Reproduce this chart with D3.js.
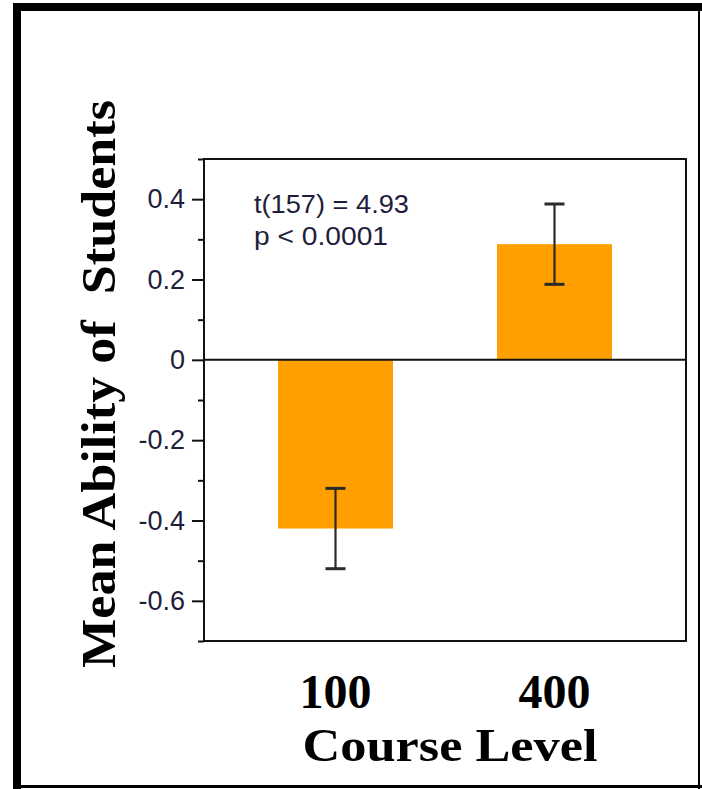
<!DOCTYPE html>
<html>
<head>
<meta charset="utf-8">
<script src="https://cdn.jsdelivr.net/npm/d3@7"></script>
<style>
  html, body { margin: 0; padding: 0; background: #fff; }
  svg { display: block; }
</style>
</head>
<body>
<svg id="chart" width="702" height="789"></svg>
<script>
// ---- data ----
const categories = ["100", "400"];
const means = [-0.42, 0.288];
const errors = [0.10, 0.10];
const yTicks = [-0.6, -0.4, -0.2, 0, 0.2, 0.4];
const yMinorTicks = [-0.7, -0.5, -0.3, -0.1, 0.1, 0.3, 0.5];
const yTickLabels = ["-0.6", "-0.4", "-0.2", "0", "0.2", "0.4"];
const annotation = ["t(157) = 4.93", "p < 0.0001"];
const xTitle = "Course Level";
const yTitle = "Mean Ability of  Students";

const svg = d3.select("#chart");

// outer frame
svg.append("rect").attr("x", 13).attr("y", 3).attr("width", 689).attr("height", 8).attr("fill", "#000");
svg.append("rect").attr("x", 13).attr("y", 3).attr("width", 8).attr("height", 786).attr("fill", "#000");
svg.append("rect").attr("x", 698).attr("y", 3).attr("width", 2).attr("height", 786).attr("fill", "#000");
svg.append("rect").attr("x", 13).attr("y", 785).attr("width", 689).attr("height", 3).attr("fill", "#000");

const plot = { left: 204, right: 686, top: 159, bottom: 641 };

const y = d3.scaleLinear().domain([-0.7, 0.5]).range([plot.bottom, plot.top]);
const x = d3.scaleBand().domain(categories).range([plot.left, plot.right])
  .paddingInner(0.475).paddingOuter(0.338);

const orange = "#ffa000";
const navy = "#1e1e3c";
const sans = "Liberation Sans, Arial, sans-serif";
const serif = "Liberation Serif, Times New Roman, serif";

// bars
svg.selectAll("rect.bar").data(categories).enter().append("rect")
  .attr("class", "bar")
  .attr("x", d => x(d))
  .attr("width", x.bandwidth())
  .attr("y", (d, i) => y(Math.max(0, means[i])))
  .attr("height", (d, i) => Math.abs(y(means[i]) - y(0)))
  .attr("fill", orange);

// zero line
svg.append("line")
  .attr("x1", plot.left).attr("x2", plot.right)
  .attr("y1", y(0)).attr("y2", y(0))
  .attr("stroke", "#111").attr("stroke-width", 2);

// error bars
const eb = svg.append("g").attr("stroke", "#2a2a2a").attr("stroke-width", 2.2);
categories.forEach((c, i) => {
  const cx = x(c) + x.bandwidth() / 2;
  const hi = y(means[i] + errors[i]);
  const lo = y(means[i] - errors[i]);
  eb.append("line").attr("x1", cx).attr("x2", cx).attr("y1", hi).attr("y2", lo);
  eb.append("line").attr("x1", cx - 10).attr("x2", cx + 10).attr("y1", hi).attr("y2", hi).attr("stroke-width", 3);
  eb.append("line").attr("x1", cx - 10).attr("x2", cx + 10).attr("y1", lo).attr("y2", lo).attr("stroke-width", 3);
});

// plot box
svg.append("rect")
  .attr("x", plot.left).attr("y", plot.top)
  .attr("width", plot.right - plot.left).attr("height", plot.bottom - plot.top)
  .attr("fill", "none").attr("stroke", "#111").attr("stroke-width", 2);

// y axis ticks
const yAxis = d3.axisLeft(y).tickValues(yTicks).tickSize(12).tickPadding(7)
  .tickFormat((d, i) => yTickLabels[i]);
const ga = svg.append("g").attr("transform", `translate(${plot.left},0)`).call(yAxis);
ga.select(".domain").remove();
ga.selectAll(".tick line").attr("stroke", "#111").attr("stroke-width", 2);
ga.selectAll(".tick text")
  .attr("font-family", sans)
  .attr("font-size", 27).attr("fill", navy);

const minor = d3.axisLeft(y).tickValues(yMinorTicks).tickSize(6).tickFormat("");
const gm = svg.append("g").attr("transform", `translate(${plot.left},0)`).call(minor);
gm.select(".domain").remove();
gm.selectAll(".tick line").attr("stroke", "#111").attr("stroke-width", 2);

// annotation
annotation.forEach((t, i) => {
  svg.append("text")
    .attr("x", 254).attr("y", 213 + i * 32)
    .attr("font-family", sans)
    .attr("font-size", 26).attr("fill", navy)
    .attr("textLength", i === 0 ? 155 : 134)
    .attr("lengthAdjust", "spacingAndGlyphs")
    .text(t);
});

// x tick labels
svg.selectAll("text.xlab").data(categories).enter().append("text")
  .attr("class", "xlab")
  .attr("x", d => x(d) + x.bandwidth() / 2)
  .attr("y", 708)
  .attr("text-anchor", "middle")
  .attr("font-family", serif).attr("font-weight", "bold")
  .attr("font-size", 48).attr("fill", "#000")
  .text(d => d);

// x title
svg.append("text")
  .attr("x", 450).attr("y", 761)
  .attr("text-anchor", "middle")
  .attr("font-family", serif).attr("font-weight", "bold")
  .attr("font-size", 46).attr("fill", "#000")
  .attr("textLength", 295).attr("lengthAdjust", "spacingAndGlyphs")
  .text(xTitle);

// y title
svg.append("text")
  .attr("transform", "translate(115,384) rotate(-90)")
  .attr("text-anchor", "middle")
  .attr("font-family", serif).attr("font-weight", "bold")
  .attr("font-size", 48).attr("fill", "#000")
  .attr("textLength", 568).attr("lengthAdjust", "spacingAndGlyphs")
  .style("white-space", "pre")
  .text(yTitle);
</script>
</body>
</html>
